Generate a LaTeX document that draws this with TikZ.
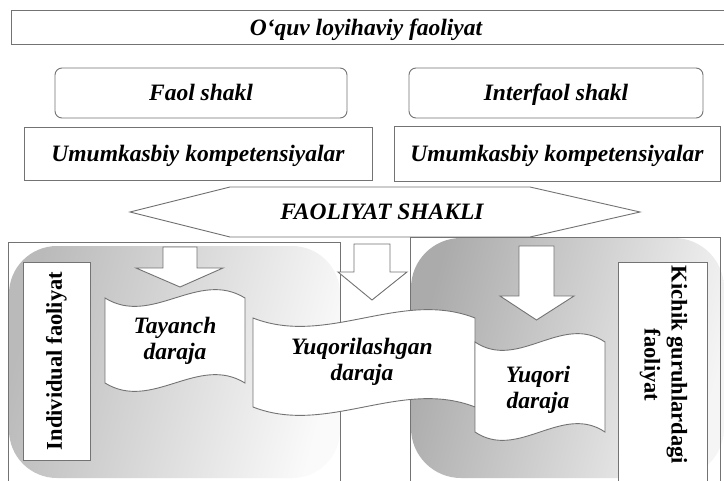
\documentclass[tikz,border=0pt]{standalone}
\usepackage{fontspec}
\setmainfont{Liberation Serif}
\begin{document}
\begin{tikzpicture}[x=1pt,y=-1pt]
\tikzset{
  edge/.style={draw=black!55, line width=0.9pt},
  bx/.style={edge, fill=white, inner sep=0pt},
  lbl/.style={font=\fontsize{23.5}{26}\selectfont\bfseries\itshape, align=center, inner sep=0pt},
  oneline/.style={text height=16pt, text depth=1pt},
  vlbl/.style={font=\fontsize{22.5}{27}\selectfont\bfseries, align=center, inner sep=0pt},
  blockarrow/.style={edge, fill=white, line join=miter},
  wave/.style={edge, fill=white},
}
\useasboundingbox (0,0) rectangle (724,480);
\fill[white] (0,0) rectangle (724,480);

% top boxes
\node[bx, minimum width=726, minimum height=34] (topbox) at (374,27) {};
\node[lbl, oneline] (toptext) at (366,28) {O‘quv loyihaviy faoliyat};

\node[bx, rounded corners=7, minimum width=292, minimum height=50, lbl, oneline] (faol) at (201,93) {Faol shakl};
\node[bx, rounded corners=7, minimum width=294, minimum height=50, lbl, oneline] (interfaol) at (556,93) {Interfaol shakl};

\node[bx, minimum width=348, minimum height=53, lbl, oneline] (umumL) at (198,153.5) {Umumkasbiy kompetensiyalar};
\node[bx, minimum width=326, minimum height=55, lbl, oneline] (umumR) at (557,154) {Umumkasbiy kompetensiyalar};

% hexagon
\draw[edge, fill=white] (130,212) -- (230,187) -- (530,187) -- (640,212) -- (530,237) -- (230,237) -- cycle;
\node[lbl, oneline] (shakl) at (382,212) {FAOLIYAT SHAKLI};

% gray backgrounds
\shade[top color=black!27, bottom color=black!2, shading angle=75, rounded corners=48] (9,246) rectangle (340,478);
\shade[top color=black!33, bottom color=black!4, shading angle=75, rounded corners=50] (411,238) rectangle (724,478);

% frames
\draw[edge] (8,242) rectangle (340,490);
\draw[edge] (410,237) rectangle (720,490);

% vertical label boxes
\node[bx, rotate=90, minimum width=198, minimum height=67, vlbl] (indiv) at (56.5,361) {Individual faoliyat};
\node[bx, minimum width=89, minimum height=222] (kbox) at (663,373) {};
\node[vlbl, rotate=-90] (ktext) at (663.5,365) {Kichik guruhlardagi\\faoliyat};

% block arrows
\draw[blockarrow] (163,247) -- (197,247) -- (197,268) -- (223,268) -- (180,287) -- (136,268) -- (163,268) -- cycle;
\draw[blockarrow] (354,244) -- (390,244) -- (390,272) -- (407,272) -- (372,300) -- (338,272) -- (354,272) -- cycle;
\draw[blockarrow] (519,246) -- (554,246) -- (554,296) -- (574,296) -- (536.5,320) -- (500,296) -- (519,296) -- cycle;

% wave banners
\draw[wave] (105,298) .. controls (152,327) and (198,269) .. (245,298) -- (245,383) .. controls (198,354) and (152,412) .. (105,383) -- cycle;
\node[lbl] (tayanch) at (175,341) {Tayanch\\daraja};

\draw[wave] (253,318) .. controls (327,347) and (401,289) .. (475,318) -- (475,407) .. controls (401,378) and (327,436) .. (253,407) -- cycle;
\node[lbl] (yuqorilash) at (362,362) {Yuqorilashgan\\daraja};

\draw[wave] (475,342) .. controls (518,371) and (562,313) .. (605,342) -- (605,432) .. controls (562,403) and (518,461) .. (475,432) -- cycle;
\node[lbl] (yuqori) at (538,390) {Yuqori\\daraja};
\end{tikzpicture}
\end{document}
